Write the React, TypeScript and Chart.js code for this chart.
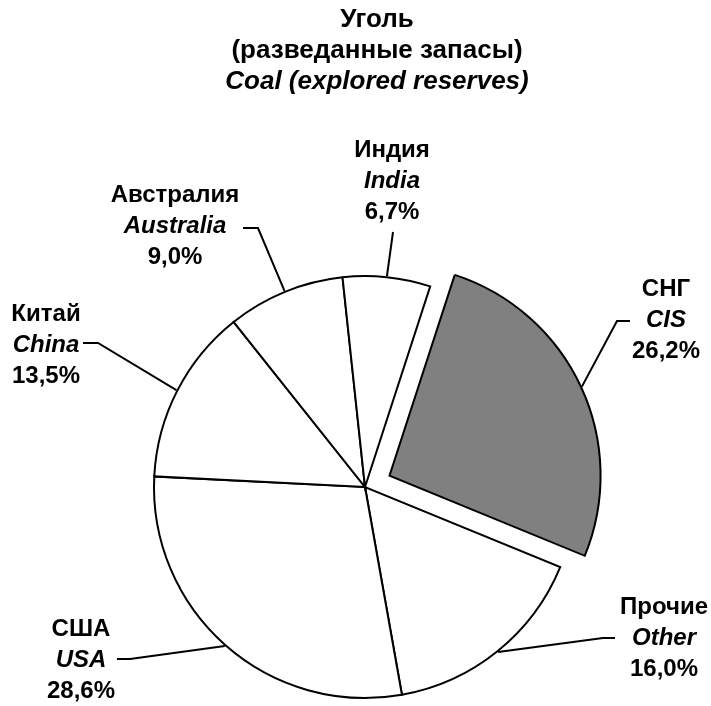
import React, { useEffect, useRef } from "react";
import { Chart, registerables } from "chart.js";

Chart.register(...registerables);

// ---- data ----
const namesRu = ["СНГ", "Прочие", "США", "Китай", "Австралия", "Индия"];
const namesEn = ["CIS", "Other", "USA", "China", "Australia", "India"];
const shares = [26.2, 16.0, 28.6, 13.5, 9.0, 6.7];
const titleLines = ["Уголь", "(разведанные запасы)", "Coal (explored reserves)"];

// ---- styles / layout ----
const sliceColors = ["#808080", "#ffffff", "#ffffff", "#ffffff", "#ffffff", "#ffffff"];
const sliceOffsets = [108, 0, 0, 0, 0, 0];
const FONT = '"Liberation Sans", Arial, sans-serif';
// label centre x, middle-line baseline, elbow point, end of horizontal stub
const labelLayout = [
  { cx: 666, mid: 327, ex: 617, ey: 321, endX: 630 },
  { cx: 664, mid: 645, ex: 603, ey: 638, endX: 615 },
  { cx: 81, mid: 667, ex: 130, ey: 659, endX: 117 },
  { cx: 46, mid: 352, ex: 98, ey: 343, endX: 83 },
  { cx: 175, mid: 233, ex: 258, ey: 228, endX: 243 },
  { cx: 392, mid: 188, ex: 393, ey: 232, endX: 393 },
];
const LINE_GAP = 31;

const fmt = (v: number) => v.toFixed(1).replace(".", ",") + "%";

const labelsPlugin = {
  id: "coalLabels",
  afterDatasetsDraw(chart: any) {
    const ctx = chart.ctx as CanvasRenderingContext2D;
    const meta = chart.getDatasetMeta(0);
    ctx.save();
    ctx.fillStyle = "#000";
    ctx.textAlign = "center";
    ctx.textBaseline = "alphabetic";
    // title
    const tcx = 377;
    const tBase = [27, 58, 89];
    titleLines.forEach((t, i) => {
      ctx.font = (i === 2 ? "italic " : "") + "bold 26px " + FONT;
      ctx.fillText(t, tcx, tBase[i]);
    });
    // leader lines + labels
    meta.data.forEach((arc: any, i: number) => {
      const p = arc.getProps(["x", "y", "startAngle", "endAngle", "outerRadius"], true);
      const midA = (p.startAngle + p.endAngle) / 2;
      const off = (arc.options.offset || 0) / 4;
      const r = p.outerRadius + 1;
      const sx = p.x + Math.cos(midA) * (r + off);
      const sy = p.y + Math.sin(midA) * (r + off);
      const L = labelLayout[i];
      ctx.strokeStyle = "#000";
      ctx.lineWidth = 2;
      ctx.lineJoin = "miter";
      ctx.beginPath();
      ctx.moveTo(sx, sy);
      ctx.lineTo(L.ex, L.ey);
      ctx.lineTo(L.endX, L.ey);
      ctx.stroke();
      ctx.font = "bold 24px " + FONT;
      ctx.fillText(namesRu[i], L.cx, L.mid - LINE_GAP);
      ctx.font = "italic bold 24px " + FONT;
      ctx.fillText(namesEn[i], L.cx, L.mid);
      ctx.font = "bold 24px " + FONT;
      ctx.fillText(fmt(shares[i]), L.cx, L.mid + LINE_GAP);
    });
    ctx.restore();
  },
};

export default function App() {
  const ref = useRef<HTMLCanvasElement | null>(null);
  useEffect(() => {
    if (!ref.current) return;
    const chart = new Chart(ref.current, {
      type: "pie",
      data: {
        labels: namesEn,
        datasets: [
          {
            data: shares,
            backgroundColor: sliceColors,
            borderColor: "#000000",
            borderWidth: 2,
            borderJoinStyle: "miter",
            offset: sliceOffsets,
            hoverOffset: 0,
            clip: false,
          } as any,
        ],
      },
      options: {
        responsive: false,
        animation: false,
        rotation: 18,
        radius: 211,
        layout: { padding: { left: 130, right: 111, top: 276, bottom: 8 } },
        plugins: {
          legend: { display: false },
          title: { display: false },
          tooltip: { enabled: false },
        },
        events: [],
      } as any,
      plugins: [labelsPlugin],
    });
    return () => chart.destroy();
  }, []);
  return (
    <div style={{ position: "fixed", left: 0, top: 0, width: 711, height: 706, background: "#fff" }}>
      <canvas ref={ref} width={711} height={706} style={{ display: "block" }} />
    </div>
  );
}
